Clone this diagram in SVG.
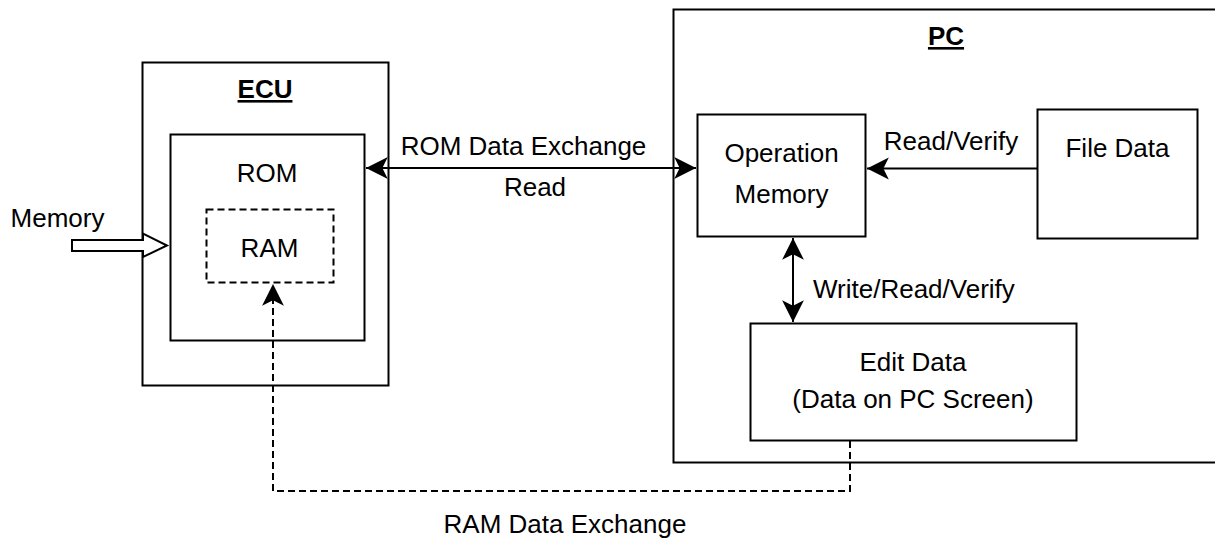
<svg xmlns="http://www.w3.org/2000/svg" width="1215" height="539" viewBox="0 0 1215 539">
<style>
.box{fill:#fff;stroke:#000;stroke-width:2}
.dbox{fill:none;stroke:#000;stroke-width:2;stroke-dasharray:7 4}
.t{font-family:"Liberation Sans",Arial,sans-serif;font-size:26px;fill:#000;text-anchor:middle}
.b{font-weight:bold;text-decoration:underline}
.ln{fill:none;stroke:#000;stroke-width:2}
.dl{fill:none;stroke:#000;stroke-width:2;stroke-dasharray:7 4}
</style>
<defs>
<marker id="ah" markerUnits="userSpaceOnUse" markerWidth="24" markerHeight="24" viewBox="-21 -11 22 22" refX="0" refY="0" orient="auto-start-reverse">
<path d="M0,0 L-20,-10 L-15,0 L-20,10 Z" fill="#000"/>
</marker>
</defs>
<rect width="1215" height="539" fill="#fff"/>
<g id="pc">
<rect class="box" x="673.5" y="9.5" width="545" height="453"/>
<text class="t b" x="946" y="45">PC</text>
</g>
<g id="ecu">
<rect class="box" x="142.5" y="62.5" width="246" height="323"/>
<text class="t b" x="265" y="98">ECU</text>
</g>
<g id="rom">
<rect class="box" x="170.5" y="134.5" width="194" height="206"/>
<text class="t" x="267" y="182">ROM</text>
</g>
<g id="ram">
<rect class="dbox" x="206.5" y="209.5" width="127" height="73"/>
<text class="t" x="269.5" y="257">RAM</text>
</g>
<g id="memory">
<text class="t" x="57.5" y="227">Memory</text>
<path class="box" d="M72,240 L143,240 L143,233.5 L167,245.5 L143,257 L143,251 L72,251 Z"/>
</g>
<g id="opmem">
<rect class="box" x="697.5" y="114.5" width="168" height="122"/>
<text class="t" x="781.5" y="162">Operation</text>
<text class="t" x="781.5" y="203">Memory</text>
</g>
<g id="filedata">
<rect class="box" x="1037.5" y="109.5" width="160" height="129"/>
<text class="t" x="1117.5" y="157">File Data</text>
</g>
<g id="editdata">
<rect class="box" x="750.5" y="323.5" width="326" height="117"/>
<text class="t" x="913" y="371">Edit Data</text>
<text class="t" x="913" y="408">(Data on PC Screen)</text>
</g>
<g id="connectors">
<line class="ln" x1="366" y1="168" x2="696" y2="168" marker-start="url(#ah)" marker-end="url(#ah)"/>
<text class="t" x="523.5" y="155">ROM Data Exchange</text>
<text class="t" x="535" y="196">Read</text>
<line class="ln" x1="1037" y1="168.5" x2="867" y2="168.5" marker-end="url(#ah)"/>
<text class="t" x="951" y="150">Read/Verify</text>
<line class="ln" x1="793" y1="238" x2="793" y2="322" marker-start="url(#ah)" marker-end="url(#ah)"/>
<text class="t" x="813" y="298" style="text-anchor:start">Write/Read/Verify</text>
<path class="dl" d="M850,441 L850,491 L273,491 L273,284" marker-end="url(#ah)"/>
<text class="t" x="565" y="533">RAM Data Exchange</text>
</g>
</svg>
